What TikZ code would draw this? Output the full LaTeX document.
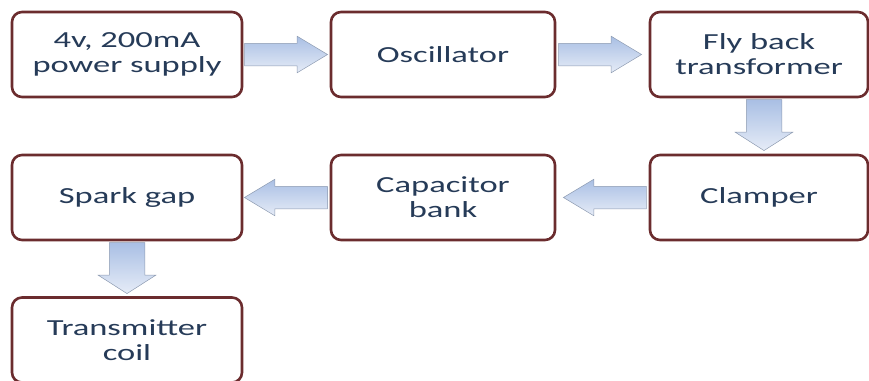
\documentclass[tikz,border=0pt]{standalone}
\usepackage{fontspec}
\newfontfamily\boxfont[FakeStretch=1.5]{Carlito}
\usepackage{tikz}
\usetikzlibrary{shapes, arrows, positioning, calc}

\definecolor{boxline}{HTML}{6B2C2E}
\definecolor{boxtext}{HTML}{263B58}
\definecolor{arrowtop}{HTML}{A9BFE4}
\definecolor{arrowbot}{HTML}{E6ECF7}
\definecolor{arrowline}{HTML}{8C9AB0}

\tikzset{
  stage/.style={draw=boxline, line width=2.6pt, rounded corners=10pt, fill=white,
    minimum height=85pt, align=center, text=boxtext,
    font=\boxfont\fontsize{23}{25}\selectfont},
  flow/.style={single arrow, draw=arrowline, line width=0.5pt,
    top color=arrowtop, bottom color=arrowbot, inner sep=0pt, anchor=tail},
  flowside/.style={flow, minimum height=83pt, inner ysep=11pt,
    single arrow head extend=7pt, single arrow tip angle=62},
  flowdown/.style={flow, minimum height=51pt, inner xsep=17.5pt,
    single arrow head extend=11pt, single arrow tip angle=115,
    shape border rotate=270}
}

\begin{document}
\begin{tikzpicture}[x=1pt, y=-1pt]
    \useasboundingbox (0,0) rectangle (869,380);
    % blocks
    \node[stage, minimum width=230pt] (supply) at (127,54.5) {4v, 200mA\\power supply};
    \node[stage, minimum width=224pt] (osc) at (443,54.5) {Oscillator};
    \node[stage, minimum width=218pt] (fly) at (759,54.5) {Fly back\\transformer};
    \node[stage, minimum width=230pt] (spark) at (127,197.5) {Spark gap};
    \node[stage, minimum width=224pt] (cap) at (443,197.5) {Capacitor\\bank};
    \node[stage, minimum width=218pt] (clamp) at (759,197.5) {Clamper};
    \node[stage, minimum width=230pt] (coil) at (127,340) {Transmitter\\coil};
    % block arrows
    \node[flowside] (a1) at ($(supply.east)+(1,0)$) {};
    \node[flowside] (a2) at ($(osc.east)+(2,0)$) {};
    \node[flowdown] (a3) at ($(fly.south)+(5,1)$) {};
    \node[flowside, shape border rotate=180] (a4) at ($(clamp.west)+(-2,0)$) {};
    \node[flowside, shape border rotate=180] (a5) at ($(cap.west)+(-2,0)$) {};
    \node[flowdown] (a6) at ($(spark.south)+(0,1)$) {};
\end{tikzpicture}
\end{document}
